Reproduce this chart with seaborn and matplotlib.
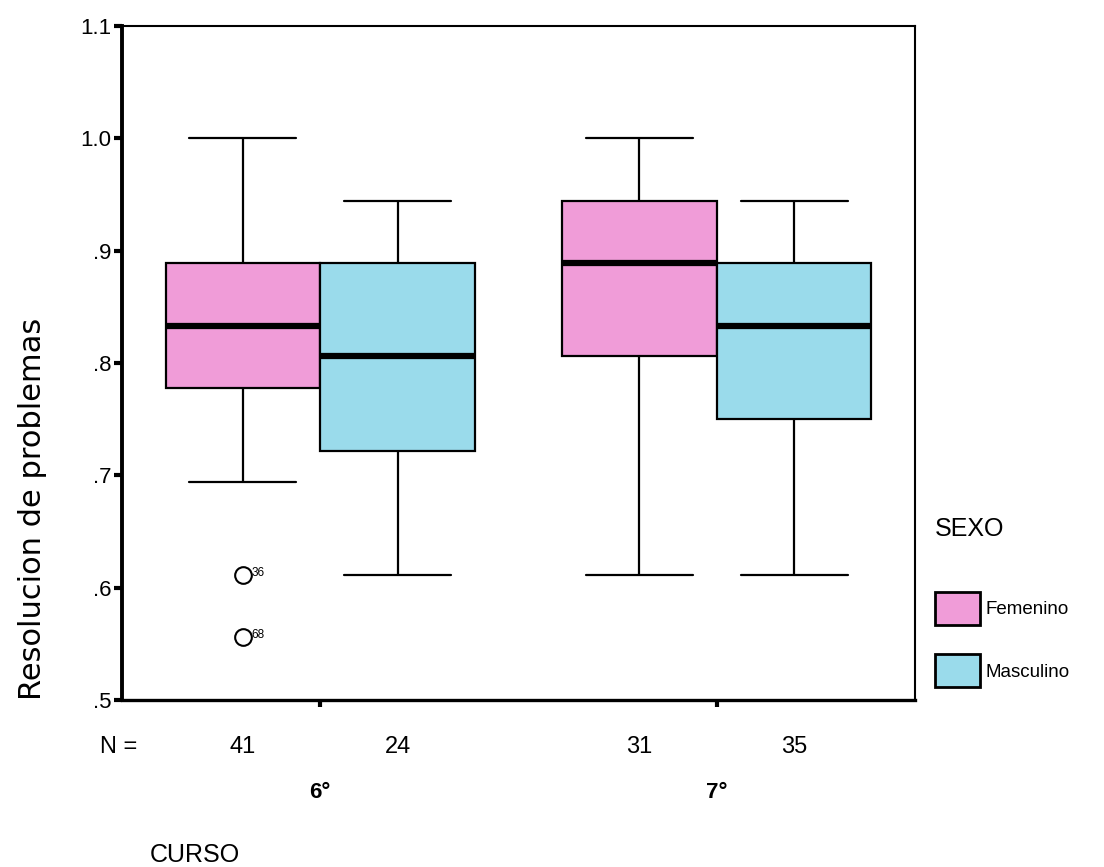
import numpy as np
import pandas as pd
import matplotlib
matplotlib.use("Agg")
import matplotlib.pyplot as plt
import seaborn as sns
from matplotlib.patches import Patch

# ---------------- data ----------------
cursos = ["6°", "7°"]
sexos = ["Femenino", "Masculino"]
# five-number summaries: lower whisker, Q1, median, Q3, upper whisker
fem_6 = [0.694, 0.778, 0.833, 0.889, 1.000]
mas_6 = [0.611, 0.722, 0.806, 0.889, 0.944]
fem_7 = [0.611, 0.806, 0.889, 0.944, 1.000]
mas_7 = [0.611, 0.750, 0.833, 0.889, 0.944]
n_counts = [41, 24, 31, 35]          # 6°F, 6°M, 7°F, 7°M
outlier_values = [0.611, 0.556]
outlier_ids = ["36", "68"]
outlier_curso = "6°"
outlier_sexo = "Femenino"
yticks = [0.5, 0.6, 0.7, 0.8, 0.9, 1.0, 1.1]
ytick_labels = [".5", ".6", ".7", ".8", ".9", "1.0", "1.1"]

pink = "#F09CD8"
cyan = "#9ADBEB"

rows = []
for curso, sexo, vals in [("6°", "Femenino", fem_6), ("6°", "Masculino", mas_6),
                          ("7°", "Femenino", fem_7), ("7°", "Masculino", mas_7)]:
    for v in vals:
        rows.append({"CURSO": curso, "SEXO": sexo, "valor": v})
df = pd.DataFrame(rows)

# ---------------- figure ----------------
sns.set_style("white")
plt.rcParams["font.family"] = ["Liberation Sans", "DejaVu Sans"]
plt.rcParams["text.color"] = "black"
plt.rcParams["axes.labelcolor"] = "black"
plt.rcParams["xtick.color"] = "black"
plt.rcParams["ytick.color"] = "black"

fig = plt.figure(figsize=(11.04, 8.67), dpi=100)
ax = fig.add_axes([122 / 1104, 1 - 700 / 867, (915 - 122) / 1104, (700 - 26) / 867])

box_width = 0.78
sns.boxplot(data=df, x="CURSO", y="valor", hue="SEXO", order=cursos, hue_order=sexos,
            palette=[pink, cyan], saturation=1, width=box_width, gap=0, whis=(0, 100),
            showfliers=False, linecolor="black", linewidth=1.6,
            medianprops=dict(linewidth=4.5, color="black"),
            capwidths=0.27, legend=False, ax=ax)

# outliers
xo = cursos.index(outlier_curso) + (sexos.index(outlier_sexo) - 0.5) * box_width / 2
for v, lab in zip(outlier_values, outlier_ids):
    ax.plot([xo], [v], marker="o", ms=12, mfc="white", mec="black", mew=1.5, ls="none",
            zorder=5)
    ax.annotate(lab, (xo, v), xytext=(6, 1.5), textcoords="offset points",
                ha="left", va="center", fontsize=8.5)

ax.set_xlim(-0.5, 1.5)
ax.set_ylim(0.5, 1.1)
ax.set_yticks(yticks)
ax.set_yticklabels(ytick_labels, fontsize=16)
ax.tick_params(axis="y", direction="out", length=6, width=3, color="black", pad=1.5,
               left=True)

# x: major ticks -> curso labels, minor ticks -> N counts
ax.set_xticks(range(len(cursos)))
ax.set_xticklabels(cursos, fontsize=16, fontweight="bold")
ax.tick_params(axis="x", which="major", direction="out", length=5, width=3,
               color="black", pad=54, bottom=True)
minor_pos = []
for i in range(len(cursos)):
    for j in range(len(sexos)):
        minor_pos.append(i + (j - 0.5) * box_width / 2)
ax.set_xticks(minor_pos, minor=True)
ax.set_xticklabels([str(n) for n in n_counts], minor=True, fontsize=17)
ax.tick_params(axis="x", which="minor", length=0, pad=26)

ax.set_xlabel("")
ax.set_ylabel("Resolucion de problemas", fontsize=22, family="DejaVu Sans",
              loc="bottom", labelpad=24)

for side, lw in [("left", 2.8), ("bottom", 2.4), ("top", 1.5), ("right", 1.5)]:
    ax.spines[side].set_visible(True)
    ax.spines[side].set_color("black")
    ax.spines[side].set_linewidth(lw)

fig.text(100 / 1104, 1 - 747 / 867, "N =", fontsize=17, ha="left", va="center")
fig.text(150 / 1104, 1 - 855 / 867, "CURSO", fontsize=18, ha="left", va="center")

handles = [Patch(facecolor=pink, edgecolor="black", linewidth=2),
           Patch(facecolor=cyan, edgecolor="black", linewidth=2)]
leg = fig.legend(handles, sexos, title="SEXO", loc="upper left",
                 bbox_to_anchor=(935 / 1104, 1 - 517 / 867), frameon=False,
                 fontsize=13.5, title_fontsize=18, handlelength=2.4,
                 handleheight=2.33, handletextpad=0.3, labelspacing=1.58,
                 borderpad=0, borderaxespad=0, alignment="left")
leg._legend_box.sep = 36.5

fig.savefig("out.png", dpi=100)
